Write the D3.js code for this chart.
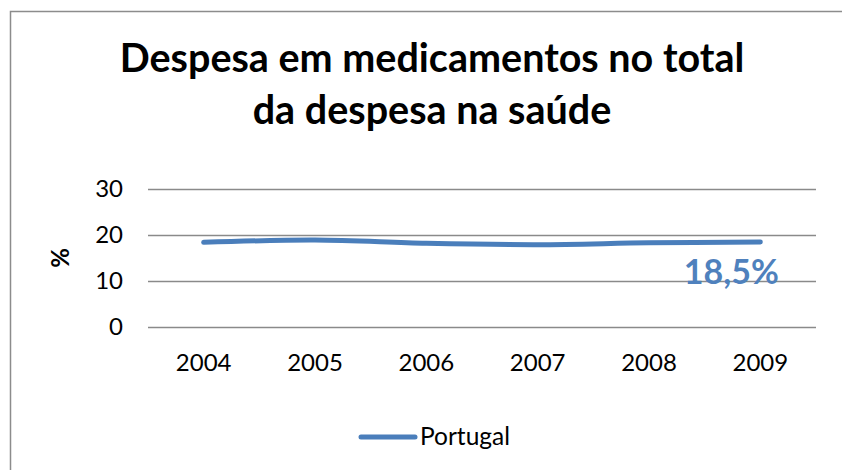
<!DOCTYPE html>
<html>
<head>
<meta charset="utf-8">
<script src="https://cdn.jsdelivr.net/npm/d3@7"></script>
<style>
  html, body { margin: 0; background: #fff; overflow: hidden; }
  svg { display: block; }
  text { font-family: Lato, "Open Sans", sans-serif; }
</style>
</head>
<body>
<div id="chart"></div>
<script>
// data
const years = ["2004", "2005", "2006", "2007", "2008", "2009"]
const portugal = [18.4, 18.9, 18.2, 17.9, 18.3, 18.5]
const yTicks = [0, 10, 20, 30]
const titleLines = ["Despesa em medicamentos no total", "da despesa na saúde"]
const seriesName = "Portugal"
const endLabel = "18,5%"

const W = 842, H = 470
const MARGIN = { TOP: 189, BOTTOM: 143, LEFT: 148, RIGHT: 26 }
const BLUE = "#4a7ebb"

const svg = d3.select("#chart").append("svg")
    .attr("width", W)
    .attr("height", H)

// chart area frame: only left and top edges fall inside the picture
svg.append("path")
    .attr("d", `M10.5,${H}V11.5H${W}`)
    .attr("fill", "none")
    .attr("stroke", "#8c8c8c")
    .attr("stroke-width", 1.5)

// title
svg.append("text")
    .attr("x", 432).attr("y", 72)
    .attr("text-anchor", "middle")
    .attr("font-weight", "bold")
    .attr("font-size", 39.5)
    .selectAll("tspan")
    .data(titleLines)
    .enter().append("tspan")
        .attr("x", 432)
        .attr("dy", (d, i) => i === 0 ? 0 : 52)
        .text(d => d)

const x = d3.scaleBand()
    .domain(years)
    .range([MARGIN.LEFT, W - MARGIN.RIGHT])

const y = d3.scaleLinear()
    .domain([0, 30])
    .range([H - MARGIN.BOTTOM, MARGIN.TOP])

// gridlines + y labels
const yAxis = svg.append("g")
    .attr("transform", `translate(${MARGIN.LEFT},0)`)
    .call(d3.axisLeft(y).tickValues(yTicks).tickSize(-(W - MARGIN.RIGHT - MARGIN.LEFT)).tickPadding(25))
yAxis.select(".domain").remove()
yAxis.selectAll(".tick line")
    .attr("stroke", "#8a8a8a")
    .attr("stroke-width", 1.3)
yAxis.selectAll(".tick text")
    .attr("font-family", "Lato, sans-serif")
    .attr("font-size", 24)
    .attr("fill", "#000")

// x labels
const xAxis = svg.append("g")
    .attr("transform", `translate(0,${y(0)})`)
    .call(d3.axisBottom(x).tickSize(0).tickPadding(27))
xAxis.select(".domain").remove()
xAxis.selectAll(".tick text")
    .attr("font-family", "Lato, sans-serif")
    .attr("font-size", 24)
    .attr("fill", "#000")

// y axis title
svg.append("text")
    .attr("transform", `translate(69,${y(15)}) rotate(-90)`)
    .attr("text-anchor", "middle")
    .attr("font-weight", "bold")
    .attr("font-size", 24)
    .text("%")

// the line, smoothed like the original
const line = d3.line()
    .x((d, i) => x(years[i]) + x.bandwidth() / 2)
    .y(d => y(d))
    .curve(d3.curveCatmullRom.alpha(0.5))

svg.append("path")
    .datum(portugal)
    .attr("d", line)
    .attr("fill", "none")
    .attr("stroke", BLUE)
    .attr("stroke-width", 5)
    .attr("stroke-linecap", "round")

// value label at the end
svg.append("text")
    .attr("x", x(years[years.length - 1]) + x.bandwidth() / 2 - 29)
    .attr("y", y(portugal[portugal.length - 1]) + 42)
    .attr("text-anchor", "middle")
    .attr("font-weight", "bold")
    .attr("font-size", 34)
    .attr("fill", "#4f81bd")
    .text(endLabel)

// legend
const legend = svg.append("g").attr("transform", "translate(361,437)")
legend.append("line")
    .attr("x1", 0).attr("x2", 54)
    .attr("stroke", BLUE)
    .attr("stroke-width", 5)
    .attr("stroke-linecap", "round")
legend.append("text")
    .attr("x", 59).attr("y", 8)
    .attr("font-size", 24.5)
    .text(seriesName)
</script>
</body>
</html>
